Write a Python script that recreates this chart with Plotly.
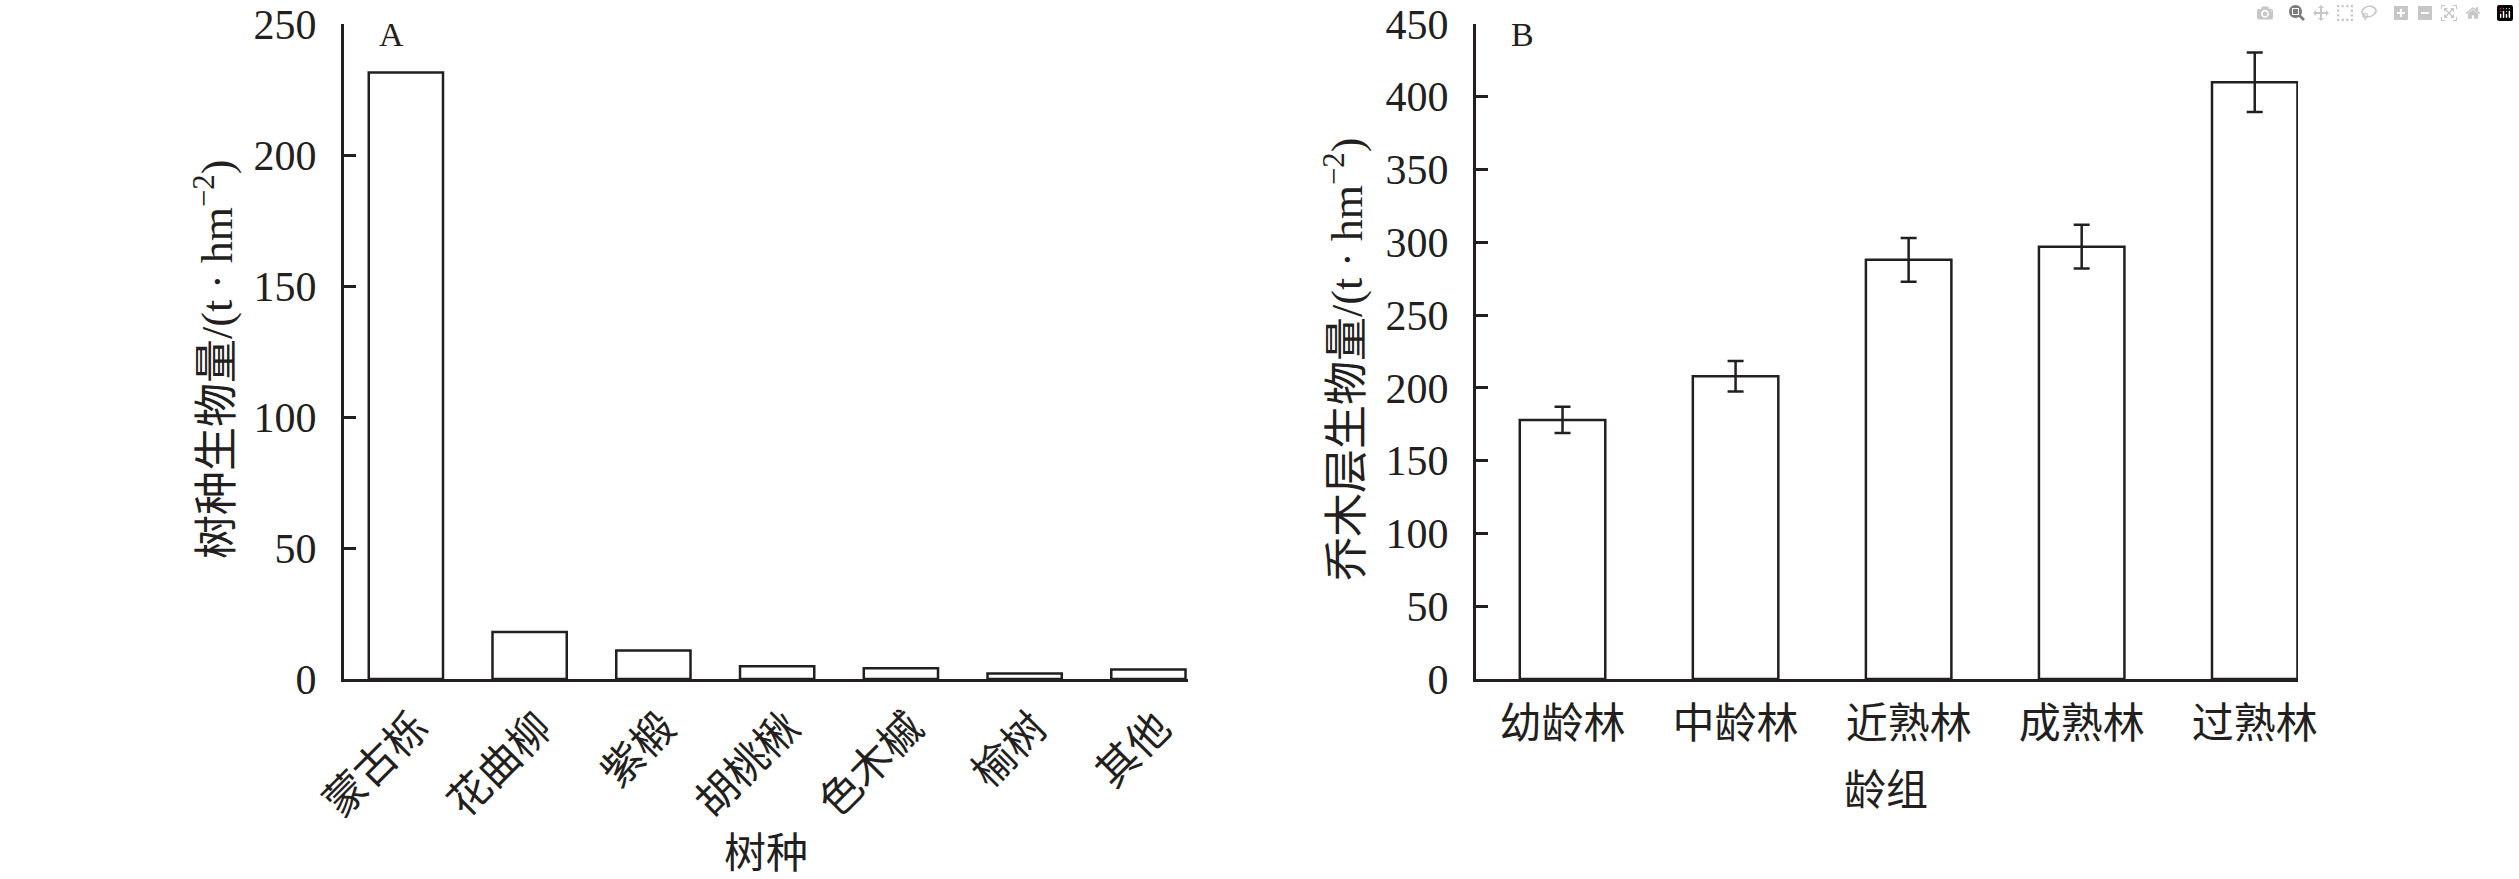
import plotly.graph_objects as go

# ---- data ----
species = ["蒙古栎", "花曲柳", "紫椴", "胡桃楸", "色木槭", "榆树", "其他"]
species_biomass = [231.5, 17.9, 10.9, 4.9, 4.1, 2.1, 3.6]

age_groups = ["幼龄林", "中龄林", "近熟林", "成熟林", "过熟林"]
age_biomass = [178, 208, 288, 297, 410]
age_err = [9, 10.5, 15, 15, 20.5]

yticks_a = [0, 50, 100, 150, 200, 250]
yticks_b = [0, 50, 100, 150, 200, 250, 300, 350, 400, 450]

W, H = 2519, 879
INK = "#231f20"
FONT = "Liberation Serif, Noto Sans CJK SC"

def px(x):
    return x / W

def py(y):
    return 1 - y / H

fig = go.Figure()
fig.add_trace(go.Bar(
    x=species, y=species_biomass, width=0.6,
    marker=dict(color="white", line=dict(color=INK, width=2.5)),
    xaxis="x", yaxis="y", showlegend=False,
))
fig.add_trace(go.Bar(
    x=age_groups, y=age_biomass, width=0.494,
    marker=dict(color="white", line=dict(color=INK, width=2.5)),
    error_y=dict(type="data", array=age_err, visible=True,
                 color=INK, thickness=2.5, width=8),
    xaxis="x2", yaxis="y2", showlegend=False,
))

yd = [py(679), py(24)]
common_y = dict(showline=True, linecolor=INK, linewidth=3, ticks="inside",
                ticklen=12, tickwidth=2.5, tickcolor=INK, showgrid=False,
                zeroline=False, ticklabelstandoff=16, automargin=False,
                tickfont=dict(family=FONT, size=42, color=INK), domain=yd)
common_x = dict(showline=True, linecolor=INK, linewidth=3, ticks="",
                showgrid=False, zeroline=False, type="category",
                automargin=False,
                tickfont=dict(family=FONT, size=42, color=INK))

title_font = dict(family=FONT, size=44, color=INK)

fig.update_layout(
    width=W, height=H, autosize=False,
    margin=dict(l=0, r=0, t=0, b=0, pad=0, autoexpand=False),
    paper_bgcolor="white", plot_bgcolor="white",
    xaxis=dict(common_x, domain=[px(344), px(1188)], range=[-0.5, 6.32],
               tickangle=-45, anchor="y", ticklabelstandoff=4,
               ticklabelshift=10),
    yaxis=dict(common_y, range=[0, 250], tickvals=yticks_a, anchor="x"),
    xaxis2=dict(common_x, domain=[px(1476), px(2298)], range=[-0.5, 4.25],
                anchor="y2", ticklabelstandoff=6),
    yaxis2=dict(common_y, range=[0, 450], tickvals=yticks_b, anchor="x2"),
    annotations=[
        dict(text="A", x=px(377), y=py(34), xref="paper", yref="paper",
             xanchor="left", yanchor="middle", showarrow=False,
             font=dict(family=FONT, size=34, color=INK)),
        dict(text="B", x=px(1509), y=py(34), xref="paper", yref="paper",
             xanchor="left", yanchor="middle", showarrow=False,
             font=dict(family=FONT, size=34, color=INK)),
        dict(text="树种生物量/(t · hm<sup>−2</sup>)", x=px(214), y=py(360),
             xref="paper", yref="paper", textangle=-90, showarrow=False,
             xanchor="center", yanchor="middle", font=title_font),
        dict(text="乔木层生物量/(t · hm<sup>−2</sup>)", x=px(1344), y=py(360),
             xref="paper", yref="paper", textangle=-90, showarrow=False,
             xanchor="center", yanchor="middle", font=title_font),
        dict(text="树种", x=px(766), y=py(854), xref="paper", yref="paper",
             showarrow=False, xanchor="center", yanchor="middle",
             font=dict(family=FONT, size=42, color=INK)),
        dict(text="龄组", x=px(1886), y=py(791), xref="paper", yref="paper",
             showarrow=False, xanchor="center", yanchor="middle",
             font=dict(family=FONT, size=42, color=INK)),
    ],
)

fig.write_html("out.html", post_script="document.body.style.margin='0';")
